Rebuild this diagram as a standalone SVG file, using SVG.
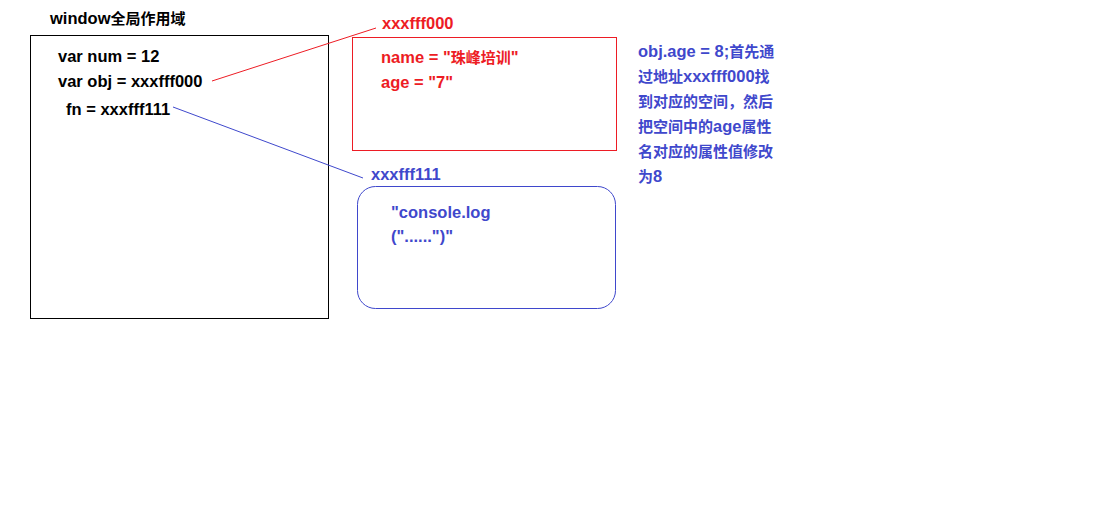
<svg xmlns="http://www.w3.org/2000/svg" width="1102" height="525" viewBox="0 0 1102 525">
<style>
text{font-family:"Liberation Sans","Noto Sans CJK SC",sans-serif;font-weight:bold;font-size:16.5px}
.c{font-size:15px}
.k{fill:#000}
.r{fill:#ed1c24}
.b{fill:#3f48cc}
</style>
<rect width="1102" height="525" fill="#fff"/>
<g id="window">
<text class="k" x="50" y="24">window<tspan class="c">全局作用域</tspan></text>
<rect x="30.5" y="35.5" width="298" height="283" fill="none" stroke="#000" stroke-width="1"/>
<text class="k" x="58" y="62">var num = 12</text>
<text class="k" x="58" y="87">var obj = xxxfff000</text>
<text class="k" x="66" y="115">fn = xxxfff111</text>
</g>
<g id="obj">
<text class="r" x="382" y="29">xxxfff000</text>
<rect x="352.5" y="37.5" width="264" height="113" fill="none" stroke="#ed1c24" stroke-width="1"/>
<text class="r" x="381" y="63">name = "<tspan class="c">珠峰培训</tspan>"</text>
<text class="r" x="381" y="88">age = "7"</text>
</g>
<g id="fn">
<text class="b" x="371" y="180">xxxfff111</text>
<rect x="357.5" y="186.5" width="258" height="122" rx="18" fill="none" stroke="#3f48cc" stroke-width="1"/>
<text class="b" x="391" y="218">"console.log</text>
<text class="b" x="391" y="242">("......")"</text>
</g>
<g id="note">
<text class="b" x="638" y="57">obj.age = 8;<tspan class="c">首先通</tspan></text>
<text class="b" x="638" y="82"><tspan class="c">过地址</tspan>xxxfff000<tspan class="c">找</tspan></text>
<text class="b c" x="638" y="107">到对应的空间，然后</text>
<text class="b" x="638" y="132"><tspan class="c">把空间中的</tspan>age<tspan class="c">属性</tspan></text>
<text class="b c" x="638" y="157">名对应的属性值修改</text>
<text class="b" x="638" y="182"><tspan class="c">为</tspan>8</text>
</g>
<g id="connectors">
<line x1="212" y1="81" x2="376" y2="28" stroke="#ed1c24" stroke-width="1"/>
<line x1="173" y1="107" x2="363" y2="178" stroke="#3f48cc" stroke-width="1"/>
</g>
</svg>
